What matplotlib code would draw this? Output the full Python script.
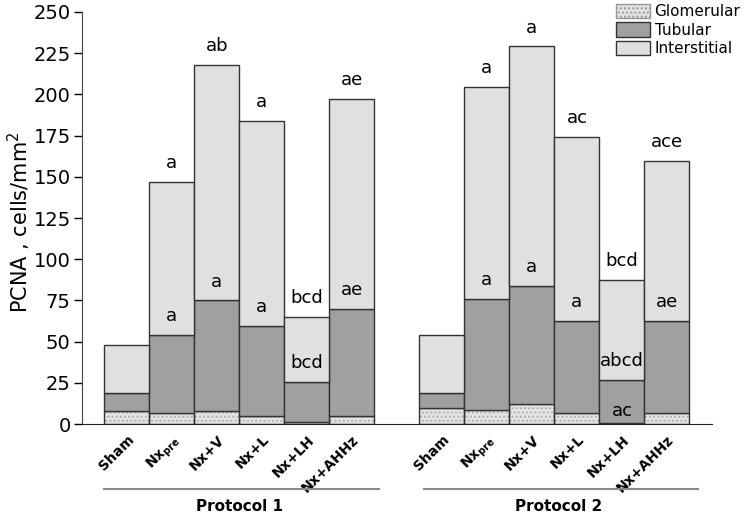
import numpy as np
import matplotlib.pyplot as plt
from matplotlib.patches import Patch
import matplotlib.transforms as mtransforms

groups = ["Sham", r"Nx$_{\mathregular{pre}}$", "Nx+V", "Nx+L", "Nx+LH", "Nx+AHHz"]
protocols = ["Protocol 1", "Protocol 2"]

# segment values (cells/mm2), protocol 1 then protocol 2
glomerular = [8, 7, 8, 5, 1.5, 5,
              10, 8.5, 12, 7, 0.8, 6.5]
tubular = [11, 47, 67, 54.3, 24.2, 65,
           9, 67.5, 72, 55.5, 26.2, 56]
interstitial = [29, 93, 143, 124.7, 39.3, 127,
                35, 128.5, 145, 111.5, 60.5, 97]

top_labels = ["", "a", "ab", "a", "bcd", "ae",
              "", "a", "a", "ac", "bcd", "ace"]
tub_labels = ["", "a", "a", "a", "bcd", "ae",
              "", "a", "a", "a", "abcd", "ae"]
glom_labels = ["", "", "", "", "", "",
               "", "", "", "", "ac", ""]

x = np.r_[np.arange(6), np.arange(7, 13)]
glom = np.array(glomerular)
tub = np.array(tubular)
inter = np.array(interstitial)

fig = plt.figure(figsize=(7.51, 5.16), dpi=100)
ax = fig.add_axes([0.109, 0.178, 0.839, 0.799])

edge = "#333333"
ax.bar(x, glom, width=1, color="#e4e4e4", hatch="....", edgecolor="#b0b0b0", linewidth=0)
ax.bar(x, glom, width=1, fill=False, edgecolor=edge, linewidth=1)
ax.bar(x, tub, bottom=glom, width=1, color="#a0a0a0", edgecolor=edge, linewidth=1)
ax.bar(x, inter, bottom=glom + tub, width=1, color="#e0e0e0", edgecolor=edge, linewidth=1)

for xi, g, t, i, lt, lm, lg in zip(x, glom, tub, inter, top_labels, tub_labels, glom_labels):
    ax.text(xi, g + t + i + 6, lt, ha="center", va="bottom", fontsize=13)
    ax.text(xi, g + t + 6, lm, ha="center", va="bottom", fontsize=13)
    ax.text(xi, g + 2, lg, ha="center", va="bottom", fontsize=13)

ax.set_xlim(-1, 13)
ax.set_ylim(0, 250)
ax.set_yticks(np.arange(0, 251, 25))
ax.tick_params(axis="y", labelsize=14, length=6, width=1, pad=2)
ax.set_xticks(x)
ax.set_xticklabels(groups * 2, rotation=45, ha="right", rotation_mode="anchor",
                   fontsize=10, fontweight="bold")
ax.tick_params(axis="x", length=0, pad=6)
for s in ["top", "right"]:
    ax.spines[s].set_visible(False)
ax.spines["left"].set_color("#444444")
ax.spines["bottom"].set_color("#222222")
ax.set_ylabel("PCNA , cells/mm$^2$", fontsize=15)
ax.yaxis.set_label_coords(-0.078, 0.49)

trans = mtransforms.blended_transform_factory(ax.transData, ax.transAxes)
for (x0, x1), name in zip([(-0.5, 5.6), (6.6, 12.7)], protocols):
    ax.plot([x0, x1], [-0.158, -0.158], color="#888888", lw=1.5,
            transform=trans, clip_on=False)
    ax.text((x0 + x1) / 2 - 0.05, -0.2, name, transform=trans, ha="center", va="center",
            fontsize=11, fontweight="bold")

handles = [Patch(facecolor="#e4e4e4", hatch="....", edgecolor="#999999", label="Glomerular"),
           Patch(facecolor="#a0a0a0", edgecolor=edge, label="Tubular"),
           Patch(facecolor="#e0e0e0", edgecolor=edge, label="Interstitial")]
ax.legend(handles=handles, loc="upper right", bbox_to_anchor=(1.055, 1.035), frameon=False,
          fontsize=11, handlelength=2.2, handleheight=1.1, handletextpad=0.3,
          labelspacing=0.2, borderaxespad=0)

fig.savefig("out.png", dpi=100)
